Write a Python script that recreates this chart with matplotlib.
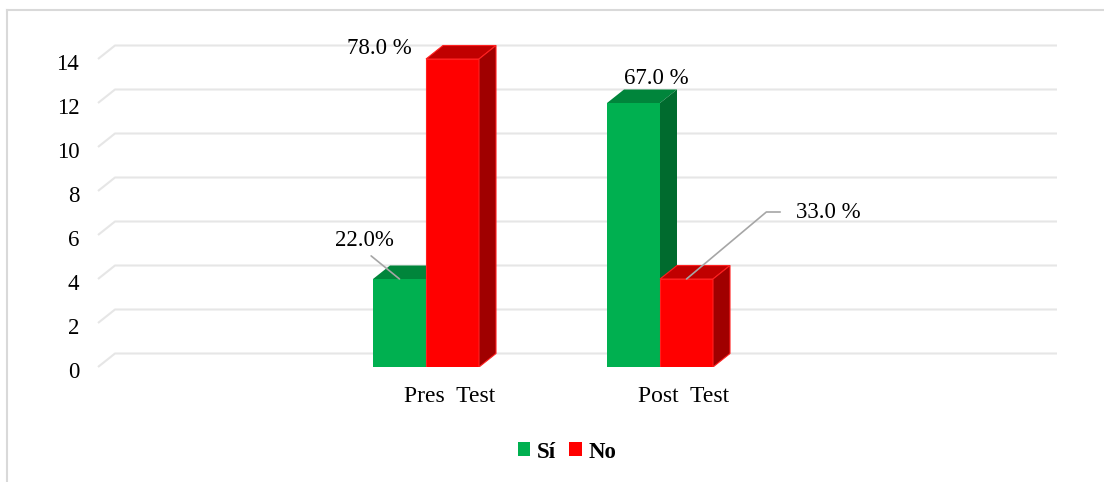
import matplotlib
matplotlib.use("Agg")
import matplotlib.pyplot as plt
from matplotlib.patches import Polygon, Rectangle
from matplotlib.transforms import ScaledTranslation
from matplotlib.lines import Line2D
import numpy as np

# ---- data ----
categories = ["Pres  Test", "Post  Test"]
series_names = ["Sí", "No"]
si_values = [4, 12]
no_values = [14, 4]
si_labels = ["22.0%", "67.0 %"]
no_labels = ["78.0 %", "33.0 %"]
yticks = [0, 2, 4, 6, 8, 10, 12, 14]

# ---- styles ----
FONT = "Liberation Serif"
FS = 16.5
FS_CAT = 17
colors = {
    "Sí": ("#00B050", "#00853B", "#006B2E"),   # front, top, side
    "No": ("#FF0000", "#C00000", "#A00000"),
}
GRID = "#E6E6E6"
LEADER = "#A6A6A6"

W, H, DPI = 1104, 482, 100
fig = plt.figure(figsize=(W / DPI, H / DPI), dpi=DPI)
fig.patch.set_facecolor("white")

# axes position in pixels (front plane)
left_px, right_px = 98, 1040
zero_px_from_top = 367
ymax = 15.0
px_per_y = 22.0
ax_h_px = ymax * px_per_y
ax = fig.add_axes([left_px / W, (H - zero_px_from_top) / H,
                   (right_px - left_px) / W, ax_h_px / H])

px_per_x = 234.0
xl = -(426 - left_px) / px_per_x
xr = xl + (right_px - left_px) / px_per_x
ax.set_xlim(xl, xr)
ax.set_ylim(0, ymax)

# depth offsets (3D effect) converted to data units
ddx = 17 / px_per_x
ddy = 13.5 / px_per_y

# back-wall gridlines with left diagonal
for v in yticks:
    ax.plot([xl, xl + ddx, xr + ddx], [v, v + ddy, v + ddy], color=GRID,
            lw=1.5, zorder=1, clip_on=False, solid_capstyle="butt")

# bars
width = 0.2265
x = np.arange(len(categories))


def bar3d(xc, h, name, z):
    front, top, side = colors[name]
    x0, x1 = xc - width / 2, xc + width / 2
    ec = "#FF2020" if name == "No" else None
    lw = 0.8 if name == "No" else 0
    ax.bar(xc, h, width=width, color=front, zorder=z, edgecolor=ec or front,
           linewidth=lw)
    ax.add_patch(Polygon([(x0, h), (x1, h), (x1 + ddx, h + ddy), (x0 + ddx, h + ddy)],
                         closed=True, facecolor=top, edgecolor=ec or top,
                         linewidth=lw, zorder=z))
    ax.add_patch(Polygon([(x1, 0), (x1, h), (x1 + ddx, h + ddy), (x1 + ddx, ddy)],
                         closed=True, facecolor=side, edgecolor=ec or side,
                         linewidth=lw, zorder=z))


for i in range(len(categories)):
    bar3d(x[i] - width / 2, si_values[i], "Sí", 3 + 2 * i)
    bar3d(x[i] + width / 2, no_values[i], "No", 4 + 2 * i)

# data labels
tkw = dict(fontfamily=FONT, fontsize=FS, color="black", zorder=10)
# Pre Sí (with leader)
ax.annotate(si_labels[0], xy=(x[0] - width / 2, si_values[0]),
            xytext=(-35, 39), textcoords="offset pixels", ha="center", va="center",
            arrowprops=dict(arrowstyle="-", color=LEADER, lw=1.2, shrinkA=3, shrinkB=0,
                            relpos=(0.5, 0.0)), **tkw)
# Pre No
ax.annotate(no_labels[0], xy=(x[0] + width / 2, no_values[0]),
            xytext=(-73, 11), textcoords="offset pixels", ha="center", va="center", **tkw)
# Post Sí
ax.annotate(si_labels[1], xy=(x[1] - width / 2, si_values[1]),
            xytext=(23, 25), textcoords="offset pixels", ha="center", va="center", **tkw)
# Post No (elbow leader)
ax.annotate(no_labels[1], xy=(x[1] + width / 2, no_values[1]),
            xytext=(109, 67), textcoords="offset pixels", ha="left", va="center",
            arrowprops=dict(arrowstyle="-", color=LEADER, lw=1.2, shrinkA=9, shrinkB=0,
                            relpos=(0.0, 0.5),
                            connectionstyle="angle,angleA=0,angleB=40,rad=0"), **tkw)

# axes cosmetics
for s in ax.spines.values():
    s.set_visible(False)
ax.set_yticks(yticks)
ax.set_yticklabels([str(t) for t in yticks], fontfamily=FONT, fontsize=FS)
ax.tick_params(axis="y", length=0, pad=13.5)
for lbl in ax.get_yticklabels():
    lbl.set_transform(lbl.get_transform() + ScaledTranslation(0, -3 / DPI, fig.dpi_scale_trans))
ax.set_xticks(x)
ax.set_xticklabels(categories, fontfamily=FONT, fontsize=FS_CAT)
ax.tick_params(axis="x", length=0, pad=21)
for lbl in ax.get_xticklabels():
    lbl.set_va("center")
    lbl.set_transform(lbl.get_transform() + ScaledTranslation(24 / DPI, 0, fig.dpi_scale_trans))
ax.set_facecolor("none")

# legend
handles = [Rectangle((0, 0), 1, 1, facecolor=colors[n][0], edgecolor="none") for n in series_names]
fig.legend(handles, series_names, loc="center", bbox_to_anchor=(567 / W, 1 - 452 / H),
           ncol=2, frameon=False, handlelength=0.55, handleheight=0.55,
           columnspacing=0.55, handletextpad=0.3,
           prop=dict(family=FONT, size=FS, weight="bold"))

# outer chart border (light gray)
fig.add_artist(Line2D([7 / W, 1.0], [1 - 10 / H, 1 - 10 / H], color="#D9D9D9", lw=1.5,
                      transform=fig.transFigure))
fig.add_artist(Line2D([7 / W, 7 / W], [0, 1 - 10 / H], color="#D9D9D9", lw=1.5,
                      transform=fig.transFigure))

fig.savefig("out.png", dpi=DPI)
